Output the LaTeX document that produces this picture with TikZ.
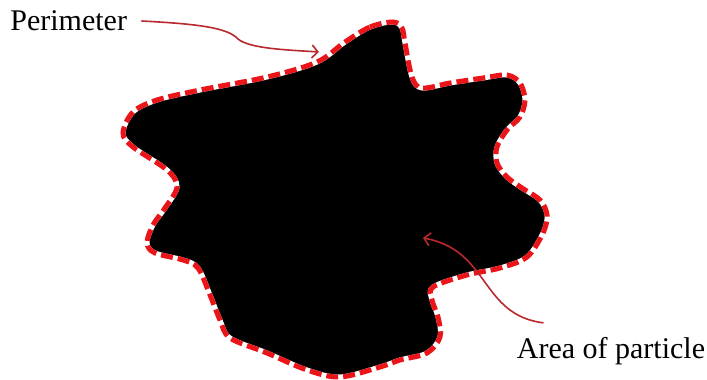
\documentclass[tikz,border=0pt]{standalone}
\usepackage{fontspec}
\setmainfont{Liberation Serif}
\usepackage{tikz}
\usetikzlibrary{arrows.meta}
\definecolor{myred}{RGB}{235,20,25}
\definecolor{arrowred}{RGB}{185,40,45}

\begin{document}
\begin{tikzpicture}[x=1pt, y=-1pt, thick,
    caption/.style={inner sep=0pt, font=\fontsize{30}{35}\selectfont},
    pointer/.style={draw=arrowred, line width=1.6pt, -{Straight Barb[length=6pt,width=13pt]}}]
    \useasboundingbox (0,0) rectangle (707,380);
    % Particle
    \filldraw[fill=black, draw=white, line width=5pt]
      plot[smooth cycle, tension=0.55] coordinates {
        (345,42) (370,27) (393,22) (402,28) (405,43) (412,77) (422,88)
        (450,83) (483,78) (507,75) (520,83) (525,100) (520,117) (507,130)
        (497,147) (497,163) (507,177) (522,188) (540,200) (547,215) (543,233)
        (527,257) (500,268) (467,275) (433,287) (432,300) (438,317) (440,337)
        (427,353) (400,360) (380,367) (340,377) (307,370) (267,353) (230,338)
        (220,320) (210,295) (198,268) (183,260) (155,253) (147,243) (153,225)
        (165,208) (177,187) (167,170) (133,147) (123,133) (133,112) (157,100)
        (200,90) (267,77) (317,62)};
    \draw[myred, line width=5pt, dash pattern=on 12pt off 5pt]
      plot[smooth cycle, tension=0.55] coordinates {
        (345,42) (370,27) (393,22) (402,28) (405,43) (412,77) (422,88)
        (450,83) (483,78) (507,75) (520,83) (525,100) (520,117) (507,130)
        (497,147) (497,163) (507,177) (522,188) (540,200) (547,215) (543,233)
        (527,257) (500,268) (467,275) (433,287) (432,300) (438,317) (440,337)
        (427,353) (400,360) (380,367) (340,377) (307,370) (267,353) (230,338)
        (220,320) (210,295) (198,268) (183,260) (155,253) (147,243) (153,225)
        (165,208) (177,187) (167,170) (133,147) (123,133) (133,112) (157,100)
        (200,90) (267,77) (317,62)};

    % Nodes
    \node[caption, anchor=west] (perim) at (10,21) {Perimeter};
    \node[caption] (area) at (611,351) {Area of particle};
    \coordinate (perimtip) at (319,52);
    \coordinate (areatip) at (423,238);

    % Edges
    \draw[pointer] ([xshift=14pt]perim.east) .. controls (200,24) and (228,28) .. (238,39)
      .. controls (250,49) and (290,50) .. (perimtip);
    \draw[pointer] ([shift={(27,-14)}]area.north west) .. controls (480,315) and (490,250) .. (areatip);
\end{tikzpicture}
\end{document}
